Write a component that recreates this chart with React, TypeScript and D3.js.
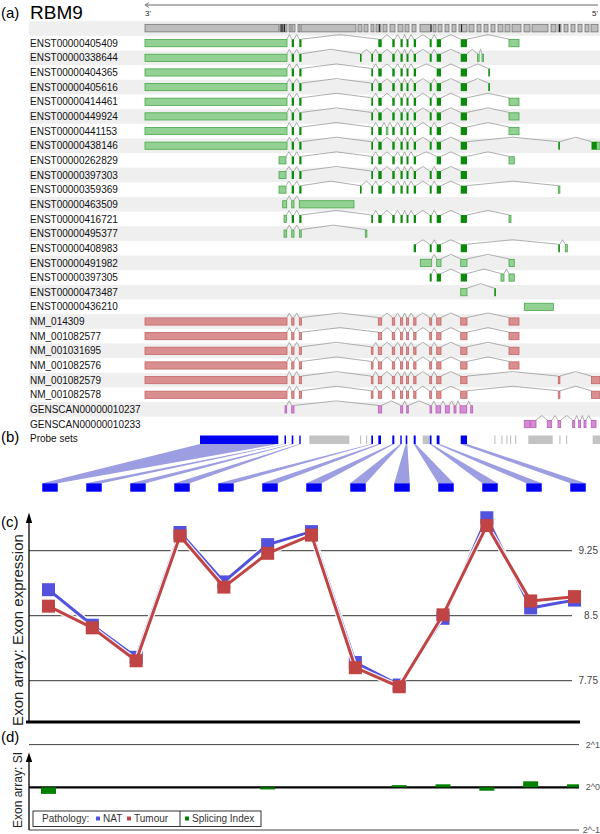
import * as d3 from 'd3';

type Span = [number, number];

// exon coordinates along the gene, 3' (left) to 5' (right), scaled units
const U3: Span = [0, 142];
const U3S: Span = [134, 141];
const E1: Span = [146.7, 149];
const E2: Span = [154.3, 156.5];
const E3: Span = [215, 216.5];
const E4: Span = [226.3, 228];
const E5: Span = [233.3, 236.7];
const EX: Span = [241.3, 242.5];
const E6: Span = [247.3, 249.7];
const E7: Span = [255.5, 257.7];
const E8: Span = [261.5, 263.5];
const E9: Span = [268.7, 271];
const E10: Span = [284.7, 286.7];
const E11: Span = [291.7, 296];
const E12: Span = [315.7, 322];
const E13: Span = [364, 374];
const E13S: Span = [364, 369.3];
const E15: Span = [343.3, 344.7];
const E16: Span = [413.3, 414.7];
const E17: Span = [446.5, 451.7];
const E17L: Span = [451.7, 455];

const CORE: Span[] = [E4, E5, E6, E7, E8, E9, E10, E11, E12];

const headerSegments: Span[] = [
  [0, 134], [135, 142], [144, 146], [147, 150], [153, 155], [156, 211], [213, 217], [219, 223],
  [226, 229], [231, 236], [238, 242], [245, 250], [253, 258], [260, 264], [267, 271], [275, 286],
  [288, 291], [293, 297], [300, 304], [307, 311], [314, 322], [324, 329], [332, 336], [339, 343],
  [346, 350], [353, 358], [360, 365], [367, 376], [379, 385], [387, 403], [406, 411], [413, 416],
  [419, 423], [426, 430], [433, 437], [440, 444], [446, 453],
];
const headerDarkTicks = [135.6, 137.3, 139, 233.8, 285.5, 316, 414];

interface Tx { name: string; dark?: Span[]; light?: Span[] }

const ensembl: Tx[] = [
  { name: 'ENST00000405409', light: [U3, E13], dark: [E1, E2, E5, E6, E7, E8, E9, E10, E11, E12] },
  { name: 'ENST00000338644', light: [U3, [332.5, 334], [337, 338.5]], dark: [E1, E2, E3, ...CORE] },
  { name: 'ENST00000404365', light: [U3], dark: [E1, E2, E4, E5, E6, E7, E8, E9, E11, E12, E15] },
  { name: 'ENST00000405616', light: [U3], dark: [E1, E2, ...CORE, E15] },
  { name: 'ENST00000414461', light: [U3, E13], dark: [E1, E2, ...CORE] },
  { name: 'ENST00000449924', light: [U3, E13], dark: [E1, E2, ...CORE] },
  { name: 'ENST00000441153', light: [U3, EX, E13], dark: [E1, E2, ...CORE] },
  { name: 'ENST00000438146', light: [U3, E17L], dark: [E1, E2, ...CORE, E16, E17] },
  { name: 'ENST00000262829', light: [U3S, E13S], dark: [E1, E2, E4, E5, E6, E7, E8, E9, E11, E12] },
  { name: 'ENST00000397303', light: [U3S], dark: [E1, E2, ...CORE] },
  { name: 'ENST00000359369', light: [U3S, E16], dark: [E1, E2, E3, ...CORE] },
  { name: 'ENST00000463509', light: [[137.7, 141.7], E1, [154.3, 209]] },
  { name: 'ENST00000416721', light: [[139, 141.5], [364, 366]], dark: [E1, E2, ...CORE] },
  { name: 'ENST00000495377', light: [[139, 141.7], E1, [154.5, 156.3], [220.3, 221.7]] },
  { name: 'ENST00000408983', light: [[420.3, 422.3]], dark: [E9, E10, E11, E12, E16] },
  { name: 'ENST00000491982', light: [[275.3, 286.7], E11, E12, E13S] },
  { name: 'ENST00000397305', light: [[356, 359], E13S], dark: [E10, E11, E12] },
  { name: 'ENST00000473487', light: [E12], dark: [[349.3, 350.7]] },
  { name: 'ENST00000436210', light: [[379.3, 408.3]] },
];

const refseq: Tx[] = [
  { name: 'NM_014309', light: [U3, E1, E2, E5, E6, E7, E8, E9, E10, E11, E12, E13] },
  { name: 'NM_001082577', light: [U3, E1, E2, E5, E6, E7, E8, E9, E10, E11, E12, E13] },
  { name: 'NM_001031695', light: [U3, E1, E2, ...CORE, E13] },
  { name: 'NM_001082576', light: [U3, E1, E2, ...CORE, E13] },
  { name: 'NM_001082579', light: [U3, E1, E2, ...CORE, E16, [446.5, 455]] },
  { name: 'NM_001082578', light: [U3, E1, E2, ...CORE, E16, [446.5, 455]] },
];

const genscan: Tx[] = [
  {
    name: 'GENSCAN00000010237',
    light: [[140, 141.7], [146.7, 149], [233.3, 236.7], [255.7, 257.7], [261.7, 263.3], [285, 286.7],
      [291, 295.7], [300.3, 304.3], [309, 311], [315, 321.7], [325.7, 327.7]],
  },
  {
    name: 'GENSCAN00000010233',
    light: [[379.3, 385], [385.7, 391], [402.3, 406.7], [413, 415.7], [427.7, 429.7], [433.7, 435.7],
      [439, 441], [446.3, 451]],
  },
];

const probeSelected: Span[] = [
  [55, 133.3], [139.5, 141], [146.7, 148.3], [154.3, 155.7], [226.3, 228], [233.3, 236],
  [247.3, 249.3], [255.3, 256.7], [260.7, 262.3], [268.7, 270.7], [284.7, 286.5], [291.7, 294.5], [315.7, 322],
];
const probeOther: Span[] = [
  [164.3, 204.3], [215, 216], [221, 222], [277.7, 284.3], [349.3, 350.3], [356.3, 357.3], [361.3, 362.3],
  [365, 366], [370, 371], [383.3, 407.7], [414.3, 415.3], [421, 422], [447.7, 455],
];

// exon array expression per selected probe set
const natExpr = [8.80, 8.39, 8.02, 9.46, 8.89, 9.32, 9.47, 7.96, 7.70, 8.47, 9.63, 8.59, 8.68];
const tumourExpr = [8.61, 8.36, 7.98, 9.42, 8.83, 9.22, 9.43, 7.90, 7.68, 8.51, 9.54, 8.67, 8.72];
const exprTicks = [7.75, 8.5, 9.25];
const exprTickLabels = ['7.75', '8.5', '9.25'];

// splicing index (log2)
const spliceIndex = [-0.155, 0, 0, 0, 0, -0.05, 0, 0, 0.05, 0.07, -0.08, 0.14, 0.07];
const siTicks = [1, 0, -1];
const siTickLabels = ['2^1', '2^0', '2^-1'];

const FONT = "'Liberation Sans', Arial, sans-serif";
const DARK_GREEN = '#0b8a0b';
const palettes = {
  ens: { fill: '#93d093', stroke: '#46a846' },
  ref: { fill: '#d98f8f', stroke: '#c46565' },
  gen: { fill: '#d68ad6', stroke: '#b65cb6' },
};
const NAT_COLOR = '#5252dc';
const TUM_COLOR = '#c04444';

export default function App() {
  const W = 600;
  const H = 834;
  const xGene = d3.scaleLinear().domain([0, 453]).range([145, 598]);
  const rowH = 14.65;
  const rowY = (i: number) => 28.5 + i * rowH;
  const idx = d3.range(natExpr.length);
  const xPt = d3.scalePoint<number>().domain(idx).range([48.5, 574.5]);
  const xBox = d3.scalePoint<number>().domain(idx).range([50, 578]);
  const yExpr = d3.scaleLinear().domain([7.75, 9.25]).range([680.7, 550.7]);
  const ySI = d3.scaleLinear().domain([-1, 1]).range([830, 744.6]);

  const rows = [
    ...ensembl.map((t) => ({ ...t, pal: palettes.ens })),
    ...refseq.map((t) => ({ ...t, pal: palettes.ref })),
    ...genscan.map((t) => ({ ...t, pal: palettes.gen })),
  ];

  const intronPath = (spans: Span[], yc: number) => {
    const s = spans.slice().sort((a, b) => a[0] - b[0]);
    let p = '';
    for (let i = 0; i < s.length - 1; i++) {
      const x1 = xGene(s[i][1]);
      const x2 = xGene(s[i + 1][0]);
      if (x2 - x1 < 0.8) continue;
      p += `M${x1},${yc - 4}L${(x1 + x2) / 2},${yc - 8.5}L${x2},${yc - 4}`;
    }
    return p;
  };

  const exonRect = (sp: Span, yc: number, fill: string, stroke: string | null, key: string) => {
    const x0 = xGene(sp[0]);
    const w = Math.max(xGene(sp[1]) - x0, 1.6);
    return (
      <rect key={key} x={x0} y={stroke ? yc - 3.6 : yc - 4} width={w} height={stroke ? 7.2 : 8}
        fill={fill} stroke={stroke ?? 'none'} strokeWidth={stroke ? 0.8 : 0} />
    );
  };

  const probeTop = 435.5;
  const probeH = 8.5;
  const boxTop = 483.3;
  const boxH = 8.4;
  const boxW = 15.5;

  const lineExpr = d3.line<number>().x((_, i) => xPt(i)!).y((d) => yExpr(d));
  const sq = 13;

  const siClip = 'si-clip';

  return (
    <svg width={W} height={H} style={{ position: 'absolute', left: 0, top: 0, background: '#fff' }}
      fontFamily={FONT}>
      <defs>
        <clipPath id={siClip}>
          <rect x={29} y={740} width={550} height={95} />
        </clipPath>
      </defs>

      {/* (a) gene model */}
      <text x={1} y={17.5} fontSize={15}>(a)</text>
      <text x={30} y={19} fontSize={19}>RBM9</text>
      <line x1={xGene(0)} x2={xGene(453)} y1={5} y2={5} stroke="#666" strokeWidth={1} />
      <path d={`M${xGene(0) + 4},2.5L${xGene(0)},5L${xGene(0) + 4},7.5`} fill="none" stroke="#666" strokeWidth={0.8} />
      <text x={xGene(0)} y={15.5} fontSize={8} fill="#222">3'</text>
      <text x={xGene(453)} y={15.5} fontSize={8} fill="#222" textAnchor="end">5'</text>

      {d3.range(0, 27, 2).map((i) => (
        <rect key={`bg-${i}`} x={29} y={rowY(i) - rowH / 2} width={W - 29} height={rowH} fill="#efefef" />
      ))}

      {headerSegments.map((s, i) => (
        <rect key={`h-${i}`} x={xGene(s[0])} y={24.3} width={xGene(s[1]) - xGene(s[0])} height={7.6}
          fill="#bdbdbd" stroke="#6a6a6a" strokeWidth={0.7} />
      ))}
      {headerDarkTicks.map((t, i) => (
        <rect key={`ht-${i}`} x={xGene(t)} y={24.3} width={1.1} height={7.6} fill="#222" />
      ))}

      {rows.map((r, i) => {
        const yc = rowY(i + 1);
        const all = [...(r.light ?? []), ...(r.dark ?? [])];
        return (
          <g key={r.name}>
            <text x={30} y={yc + 3.6} fontSize={10} fill="#111">{r.name}</text>
            <path d={intronPath(all, yc)} fill="none" stroke="#9a9a9a" strokeWidth={0.8} />
            {(r.light ?? []).map((sp, j) => exonRect(sp, yc, r.pal.fill, r.pal.stroke, `l${j}`))}
            {(r.dark ?? []).map((sp, j) => exonRect(sp, yc, DARK_GREEN, null, `d${j}`))}
          </g>
        );
      })}

      {/* (b) probe sets */}
      <text x={1} y={442} fontSize={15}>(b)</text>
      <text x={30} y={442.3} fontSize={10} fill="#111">Probe sets</text>
      {probeSelected.map((p, i) => (
        <polygon key={`fan-${i}`} fill="#9d9de2"
          points={[
            [xGene(p[0]), probeTop + probeH],
            [xGene(p[1]), probeTop + probeH],
            [xBox(i)! + boxW / 2, boxTop],
            [xBox(i)! - boxW / 2, boxTop],
          ].map((q) => q.join(',')).join(' ')} />
      ))}
      {probeOther.map((p, i) => (
        <rect key={`po-${i}`} x={xGene(p[0])} y={probeTop} width={Math.max(xGene(p[1]) - xGene(p[0]), 1.2)}
          height={probeH} fill="#c3c3c3" />
      ))}
      {probeSelected.map((p, i) => (
        <rect key={`ps-${i}`} x={xGene(p[0])} y={probeTop} width={Math.max(xGene(p[1]) - xGene(p[0]), 1.4)}
          height={probeH} fill="#0000f0" />
      ))}
      {idx.map((i) => (
        <rect key={`box-${i}`} x={xBox(i)! - boxW / 2} y={boxTop} width={boxW} height={boxH} fill="#0000f0" />
      ))}

      {/* (c) exon expression */}
      <text x={1} y={527} fontSize={15}>(c)</text>
      {exprTicks.map((t, i) => (
        <g key={`et-${t}`}>
          <line x1={29} x2={572} y1={yExpr(t)} y2={yExpr(t)} stroke="#333" strokeWidth={1} />
          <text x={598} y={yExpr(t) + 3.5} fontSize={10} fill="#444" textAnchor="end">{exprTickLabels[i]}</text>
        </g>
      ))}
      <line x1={29} x2={29} y1={521} y2={722} stroke="#000" strokeWidth={1.3} />
      <path d="M25.8,523L29,512.5L32.2,523Z" fill="#000" />
      <line x1={26} x2={580} y1={722} y2={722} stroke="#000" strokeWidth={3} />
      <text transform="translate(23,630) rotate(-90)" fontSize={15} textAnchor="middle" fill="#222">
        Exon array: Exon expression
      </text>

      <path d={lineExpr(natExpr) ?? ''} fill="none" stroke="#fff" strokeWidth={5.5} strokeLinejoin="round" />
      <path d={lineExpr(natExpr) ?? ''} fill="none" stroke={NAT_COLOR} strokeWidth={3} strokeLinejoin="round" />
      {natExpr.map((v, i) => (
        <rect key={`n-${i}`} x={xPt(i)! - sq / 2} y={yExpr(v) - sq / 2} width={sq} height={sq} fill={NAT_COLOR} />
      ))}
      <path d={lineExpr(tumourExpr) ?? ''} fill="none" stroke="#fff" strokeWidth={5.5} strokeLinejoin="round" opacity={0.9} />
      <path d={lineExpr(tumourExpr) ?? ''} fill="none" stroke={TUM_COLOR} strokeWidth={3} strokeLinejoin="round" />
      {tumourExpr.map((v, i) => (
        <rect key={`t-${i}`} x={xPt(i)! - sq / 2} y={yExpr(v) - sq / 2} width={sq} height={sq} fill={TUM_COLOR} />
      ))}

      {/* (d) splicing index */}
      <text x={1} y={742} fontSize={15}>(d)</text>
      {siTicks.map((t, i) => (
        <g key={`si-${t}`}>
          <line x1={29} x2={579} y1={ySI(t)} y2={ySI(t)} stroke={t === 0 ? '#000' : '#444'}
            strokeWidth={t === 0 ? 2.2 : 1} />
          <text x={600} y={ySI(t) + 3} fontSize={9} fill="#555" textAnchor="end">{siTickLabels[i]}</text>
        </g>
      ))}
      <line x1={29} x2={29} y1={761} y2={830} stroke="#000" strokeWidth={1.3} />
      <path d="M25.8,762L29,752.5L32.2,762Z" fill="#000" />
      <text transform="translate(22,790) rotate(-90)" fontSize={12} textAnchor="middle" fill="#222">
        Exon array: SI
      </text>
      <g clipPath={`url(#${siClip})`}>
        {spliceIndex.map((v, i) =>
          Math.abs(v) < 0.005 ? null : (
            <rect key={`b-${i}`} x={xPt(i)! - 7.5} y={Math.min(ySI(v), ySI(0))} width={15}
              height={Math.abs(ySI(v) - ySI(0))} fill="#008000" />
          ),
        )}
      </g>

      {/* legend */}
      <rect x={33} y={811} width={228} height={15.5} fill="#fff" stroke="#333" strokeWidth={1} />
      <line x1={180} x2={180} y1={811} y2={826.5} stroke="#333" strokeWidth={1} />
      <text x={42} y={822} fontSize={10} fill="#333">Pathology:</text>
      <rect x={96} y={816.5} width={4} height={4} fill={NAT_COLOR} />
      <text x={103} y={822} fontSize={10} fill="#333">NAT</text>
      <rect x={127} y={816.5} width={4} height={4} fill={TUM_COLOR} />
      <text x={134} y={822} fontSize={10} fill="#333">Tumour</text>
      <rect x={185} y={816.5} width={4} height={4} fill="#008000" />
      <text x={192} y={822} fontSize={10} fill="#333">Splicing Index</text>
    </svg>
  );
}
